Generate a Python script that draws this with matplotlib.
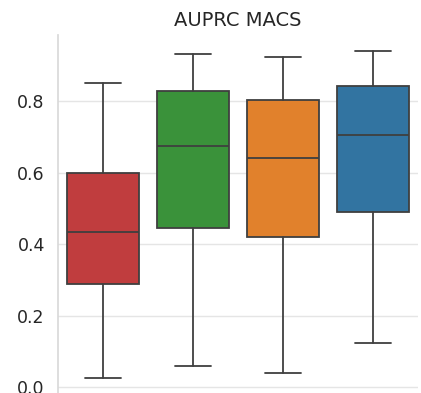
import matplotlib
matplotlib.use("Agg")
import matplotlib.pyplot as plt
import seaborn as sns

sns.set_theme(style="whitegrid")
plt.rcParams['font.family'] = ['DejaVu Sans']

categories = ["A", "B", "C", "D"]
colors = ["#c03d3e", "#3a923a", "#e1812c", "#3274a1"]
whislo = [0.025, 0.059, 0.039, 0.125]
q1 = [0.289, 0.444, 0.421, 0.490]
med = [0.433, 0.675, 0.640, 0.704]
q3 = [0.600, 0.827, 0.802, 0.842]
whishi = [0.849, 0.931, 0.923, 0.939]
yticks = [0.0, 0.2, 0.4, 0.6, 0.8]

fig = plt.figure(figsize=(4.21, 3.93), dpi=100)
ax = fig.add_axes([0.1378, -0.0046, 0.855, 0.916])

stats = [dict(label=c, whislo=a, q1=b, med=m, q3=d, whishi=e, fliers=[])
         for c, a, b, m, d, e in zip(categories, whislo, q1, med, q3, whishi)]
lc = "#3f3f3f"
bp = ax.bxp(stats, positions=range(len(categories)), widths=0.8, patch_artist=True,
            showfliers=False,
            boxprops=dict(edgecolor=lc, linewidth=1.3),
            whiskerprops=dict(color=lc, linewidth=1.3),
            capprops=dict(color=lc, linewidth=1.3),
            medianprops=dict(color=lc, linewidth=1.3))
for patch, col in zip(bp['boxes'], colors):
    patch.set_facecolor(col)
for cap in bp['caps']:
    x = cap.get_xdata()
    c = (x[0] + x[1]) / 2
    cap.set_xdata([c - 0.2, c + 0.2])

ax.set_xlim(-0.5, 3.5)
ax.set_ylim(-0.021, 0.985)
ax.set_yticks(yticks)
ax.set_yticklabels([f"{t:.1f}" for t in yticks], fontsize=12.5, color="#262626")
ax.set_xticks([])
ax.grid(axis='x', visible=False)
ax.grid(axis='y', color="#e5e5e5", linewidth=1.0)
for s in ['top', 'right', 'bottom']:
    ax.spines[s].set_visible(False)
ax.spines['left'].set_color("#d9d9d9")
ax.set_axisbelow(True)
ax.set_title("AUPRC MACS", fontsize=14, color="#262626", pad=6)

fig.savefig("out.png", dpi=100)
